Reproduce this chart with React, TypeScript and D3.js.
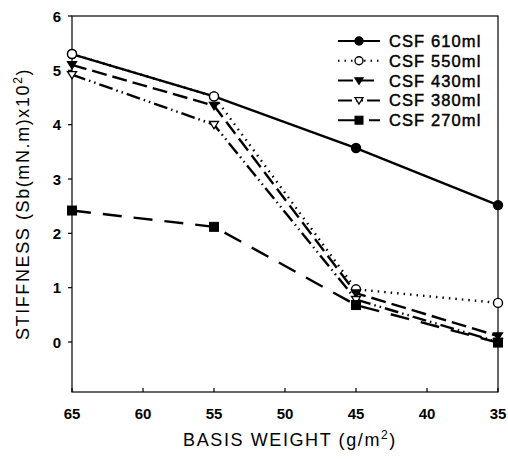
import { scaleLinear, line } from "d3";

const WIDTH = 508;
const HEIGHT = 459;

const basisWeights = [65, 55, 45, 35];
const xTicks = [65, 60, 55, 50, 45, 40, 35];
const yTicks = [0, 1, 2, 3, 4, 5, 6];

const csf610 = [5.3, 4.52, 3.57, 2.52];
const csf550 = [5.3, 4.52, 0.97, 0.72];
const csf430 = [5.1, 4.35, 0.9, 0.11];
const csf380 = [4.92, 4.0, 0.78, 0.0];
const csf270 = [2.42, 2.12, 0.68, -0.01];

const seriesNames = ["CSF 610ml", "CSF 550ml", "CSF 430ml", "CSF 380ml", "CSF 270ml"];
const seriesValues = [csf610, csf550, csf430, csf380, csf270];

// per-series look: dash pattern, marker shape, filled or open
const styles = [
  { dash: "none", marker: "circle", filled: true },
  { dash: "1.5,5", marker: "circle", filled: false },
  { dash: "15,6", marker: "tri", filled: true },
  { dash: "14,4,1.5,4,1.5,4", marker: "tri", filled: false },
  { dash: "19,12", marker: "square", filled: true },
];

const M = { left: 72, right: 498, top: 16, bottom: 392 };
const FONT = "'Liberation Sans', Arial, sans-serif";

function Marker({ kind, filled, x, y, r }: { kind: string; filled: boolean; x: number; y: number; r: number }) {
  const fill = filled ? "#000" : "#fff";
  if (kind === "circle") return <circle cx={x} cy={y} r={r} fill={fill} stroke="#000" strokeWidth={1.4} />;
  if (kind === "square")
    return <rect x={x - r} y={y - r} width={r * 2} height={r * 2} fill={fill} stroke="#000" strokeWidth={1} />;
  const pts = `${x - r},${y - r * 0.7} ${x + r},${y - r * 0.7} ${x},${y + r * 0.9}`;
  return <polygon points={pts} fill={fill} stroke="#000" strokeWidth={1.3} />;
}

export default function App() {
  const x = scaleLinear().domain([65, 35]).range([M.left, M.right]);
  const y = scaleLinear().domain([-0.92, 6]).range([M.bottom, M.top]);
  const path = line<number>()
    .x((_, i) => x(basisWeights[i]))
    .y((v) => y(v));

  return (
    <svg width={WIDTH} height={HEIGHT} style={{ position: "absolute", left: 0, top: 0, background: "#fff" }}>
      {/* frame */}
      <rect x={M.left} y={M.top} width={M.right - M.left} height={M.bottom - M.top} fill="none" stroke="#000" strokeWidth={1.2} />

      {yTicks.map((t) => (
        <g key={t}>
          <line x1={M.left - 4} x2={M.left} y1={y(t)} y2={y(t)} stroke="#000" strokeWidth={1.2} />
          <text x={M.left - 11} y={y(t) + 5.5} textAnchor="end" fontFamily={FONT} fontSize={15} fontWeight="bold">
            {t}
          </text>
        </g>
      ))}
      {xTicks.map((t) => (
        <g key={t}>
          <line x1={x(t)} x2={x(t)} y1={M.bottom} y2={M.bottom - 4} stroke="#000" strokeWidth={1.2} />
          <text x={x(t)} y={419} textAnchor="middle" fontFamily={FONT} fontSize={15} fontWeight="bold">
            {t}
          </text>
        </g>
      ))}

      {seriesValues.map((vals, i) => (
        <path key={seriesNames[i]} d={path(vals) ?? ""} fill="none" stroke="#000" strokeWidth={2.4} strokeDasharray={styles[i].dash} />
      ))}
      {seriesValues.map((vals, i) =>
        vals.map((v, j) => (
          <Marker key={`${i}-${j}`} kind={styles[i].marker} filled={styles[i].filled} x={x(basisWeights[j])} y={y(v)} r={4.5} />
        ))
      )}

      {/* legend */}
      {seriesNames.map((name, i) => {
        const ly = 41 + i * 19.8;
        return (
          <g key={name}>
            <line x1={338} x2={380} y1={ly} y2={ly} stroke="#000" strokeWidth={2} strokeDasharray={styles[i].dash} />
            <Marker kind={styles[i].marker} filled={styles[i].filled} x={359} y={ly} r={4} />
            <text
              x={389}
              y={ly + 6}
              fontFamily={FONT}
              fontSize={16.5}
              letterSpacing={1.1}
              stroke="#000"
              strokeWidth={0.45}
            >
              {name}
            </text>
          </g>
        );
      })}

      <text
        transform="translate(29,204) rotate(-90)"
        textAnchor="middle"
        fontFamily={FONT}
        fontSize={18}
        letterSpacing={1.6}
      >
        STIFFNESS (Sb(mN.m)x10<tspan dy={-7} fontSize={12}>2</tspan>
        <tspan dy={7}>)</tspan>
      </text>
      <text x={290} y={446} textAnchor="middle" fontFamily={FONT} fontSize={18} letterSpacing={1.6}>
        BASIS WEIGHT (g/m<tspan dy={-7} fontSize={12}>2</tspan>
        <tspan dy={7}>)</tspan>
      </text>
    </svg>
  );
}
